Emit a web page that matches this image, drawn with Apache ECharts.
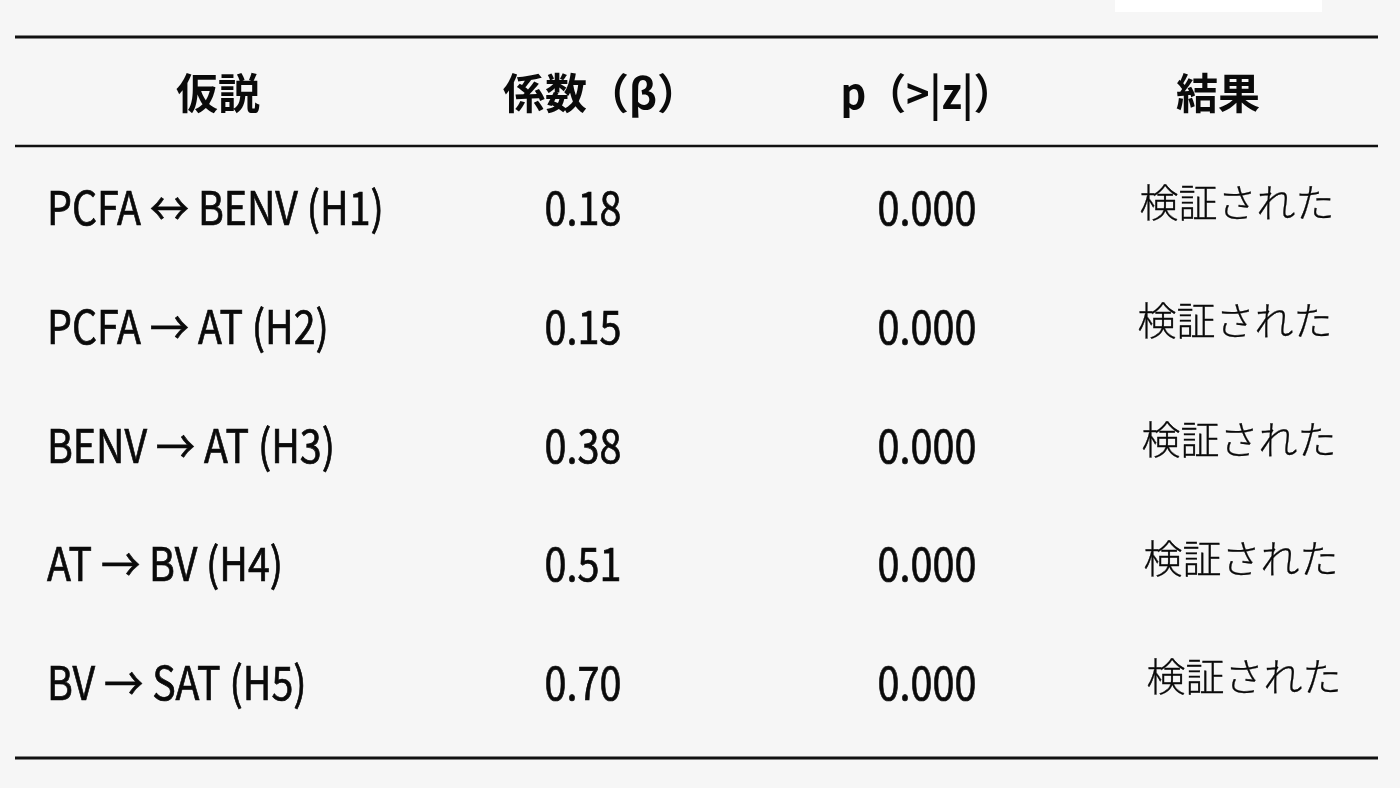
<!DOCTYPE html>
<html>
<head>
<meta charset="utf-8">
<script src="https://cdn.jsdelivr.net/npm/echarts@6/dist/echarts.min.js"></script>
<style>
html,body{margin:0;padding:0;background:#f6f6f6;}
#c{width:1400px;height:788px;}
</style>
</head>
<body>
<div id="c"></div>
<script>
// ---- data ----
const headers = ['仮説', '係数（β）', 'p（>|z|）', '結果'];
const hypotheses = ['PCFA ↔ BENV (H1)', 'PCFA → AT (H2)', 'BENV → AT (H3)', 'AT → BV (H4)', 'BV → SAT (H5)'];
const coefficients = ['0.18', '0.15', '0.38', '0.51', '0.70'];
const pValues = ['0.000', '0.000', '0.000', '0.000', '0.000'];
const results = ['検証された', '検証された', '検証された', '検証された', '検証された'];

// ---- layout ----
const headerX = [218, 601, 927, 1218];
const headerScale = [1, 1, 0.95, 1];
const colX = [47, 583, 927, 1237];
const resultNudge = [0, -2, 2, 4, 7];
const FONT = '"Noto Sans CJK JP", "Noto Sans", sans-serif';
const rowKeys = ['header'].concat(hypotheses.map((_, i) => 'r' + i));

const chart = echarts.init(document.getElementById('c'));

// custom text series: positions come from the axes via api.coord
function textSeries(name, texts, xs, rowOf, st) {
  return {
    name: name,
    type: 'custom',
    silent: true,
    coordinateSystem: 'cartesian2d',
    encode: { x: 0, y: 1 },
    data: texts.map((t, i) => [xs(i), rowOf(i)]),
    renderItem: function (params, api) {
      const i = params.dataIndex;
      const p = api.coord([api.value(0), api.value(1)]);
      const sx = typeof st.scaleX === 'function' ? st.scaleX(i) : (st.scaleX || 1);
      const style = {
        text: texts[i],
        fill: '#0a0a0a',
        font: (st.weight || 'normal') + ' ' + st.size + 'px ' + FONT,
        textAlign: st.align || 'center',
        textVerticalAlign: 'middle'
      };
      if (st.stroke) { style.stroke = '#0a0a0a'; style.lineWidth = st.stroke; }
      return { type: 'text', x: p[0], y: p[1] + (st.dy || 0), scaleX: sx, style: style };
    }
  };
}

chart.setOption({
  backgroundColor: '#f6f6f6',
  animation: false,
  grid: { left: 0, right: 0, top: 30, bottom: 46 },
  xAxis: { type: 'value', min: 0, max: 1400, show: false },
  yAxis: { type: 'category', data: rowKeys, inverse: true, show: false },
  graphic: [
    { type: 'rect', shape: { x: 1115, y: 0, width: 207, height: 12 }, style: { fill: '#ffffff' }, silent: true },
    { type: 'line', shape: { x1: 15, y1: 37, x2: 1378, y2: 37 }, style: { stroke: '#111', lineWidth: 3 }, silent: true },
    { type: 'line', shape: { x1: 15, y1: 146, x2: 1378, y2: 146 }, style: { stroke: '#111', lineWidth: 2.5 }, silent: true },
    { type: 'line', shape: { x1: 15, y1: 758, x2: 1378, y2: 758 }, style: { stroke: '#111', lineWidth: 3 }, silent: true }
  ],
  series: [
    textSeries('headers', headers, i => headerX[i], () => 0, { size: 42, weight: 'bold', dy: 4, scaleX: i => headerScale[i] }),
    textSeries('hypotheses', hypotheses, () => colX[0], i => i + 1, { size: 46, align: 'left', scaleX: 0.855, stroke: 0.7 }),
    textSeries('coefficients', coefficients, () => colX[1], i => i + 1, { size: 46, scaleX: 0.86, stroke: 0.7 }),
    textSeries('pValues', pValues, () => colX[2], i => i + 1, { size: 46, scaleX: 0.86, stroke: 0.7 }),
    textSeries('results', results, i => colX[3] + resultNudge[i], i => i + 1, { size: 39, weight: 300, dy: -6, stroke: 0.3 })
  ]
});
</script>
</body>
</html>
